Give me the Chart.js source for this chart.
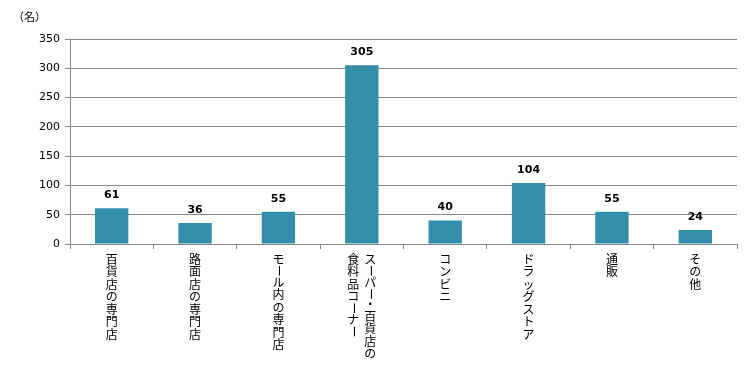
<!DOCTYPE html>
<html>
<head>
<meta charset="utf-8">
<script src="https://cdn.jsdelivr.net/npm/chart.js@4.4.0/dist/chart.umd.min.js"></script>
<style>
  html, body { margin: 0; padding: 0; background: #fff; }
  #wrap { width: 756px; height: 378px; }
</style>
</head>
<body>
<div id="wrap"><canvas id="canvas" width="756" height="378"></canvas></div>
<script>
// chart data
var categories = [
    ['百貨店の専門店'],
    ['路面店の専門店'],
    ['モール内の専門店'],
    ['スーパー・百貨店の', '食料品コーナー'],
    ['コンビニ'],
    ['ドラッグストア'],
    ['通販'],
    ['その他']
];
var counts = [61, 36, 55, 305, 40, 104, 55, 24];
var yTicks = [0, 50, 100, 150, 200, 250, 300, 350];
var unitLabel = '（名）';

var barColor = '#338eaa';
var gridColor = '#878787';
var jpFont = '"Noto Sans CJK JP", sans-serif';

// vertical writing: upright characters, long vowel mark turned
function drawVertical(ctx, text, x, y, step) {
    var chars = Array.from(text);
    var pos = y;
    chars.forEach(function(ch) {
        // punctuation takes a bit less room
        var s = (ch === 'ー' || ch === '・') ? step * 0.85 : step;
        ctx.save();
        ctx.translate(x, pos + s / 2);
        if (ch === 'ー') ctx.rotate(Math.PI / 2);
        ctx.textAlign = 'center';
        ctx.textBaseline = 'middle';
        ctx.fillText(ch, 0, 0);
        ctx.restore();
        pos += s;
    });
}

// value labels, unit text, category labels
var decorPlugin = {
    id: 'decor',
    afterDatasetsDraw: function(chart) {
        var ctx = chart.ctx;
        var meta = chart.getDatasetMeta(0);
        var xScale = chart.scales.x;
        var bottom = chart.chartArea.bottom;
        ctx.save();

        ctx.fillStyle = '#000';
        ctx.font = 'bold 11px "DejaVu Sans", sans-serif';
        ctx.textAlign = 'center';
        ctx.textBaseline = 'middle';
        meta.data.forEach(function(bar, i) {
            ctx.fillText(String(counts[i]), bar.x, bar.y - 13);
        });

        ctx.font = '11px ' + jpFont;
        ctx.textAlign = 'left';
        ctx.fillText(unitLabel, 13, 17);

        ctx.font = '12px ' + jpFont;
        categories.forEach(function(lines, i) {
            var cx = xScale.getPixelForValue(i);
            var lh = 17;
            var startX = cx + (lines.length - 1) * lh / 2;
            lines.forEach(function(line, j) {
                drawVertical(ctx, line, startX - j * lh, bottom + 9, 12.5);
            });
        });
        ctx.restore();
    }
};

var ctx = document.getElementById('canvas').getContext('2d');
var myChart = new Chart(ctx, {
    type: 'bar',
    data: {
        labels: categories.map(function(c) { return c.join(''); }),
        datasets: [{
            data: counts,
            backgroundColor: barColor,
            borderWidth: 0,
            categoryPercentage: 0.4,
            barPercentage: 1.0
        }]
    },
    options: {
        responsive: false,
        animation: false,
        layout: { padding: { top: 39, right: 19, left: 0, bottom: 0 } },
        plugins: {
            legend: { display: false },
            tooltip: { enabled: false }
        },
        scales: {
            x: {
                offset: true,
                grid: {
                    offset: true,
                    drawOnChartArea: false,
                    drawTicks: true,
                    tickLength: 5,
                    color: gridColor
                },
                border: { color: gridColor, width: 1 },
                ticks: { display: false },
                afterFit: function(scale) { scale.height = 134; }
            },
            y: {
                min: 0,
                max: 350,
                afterBuildTicks: function(scale) {
                    scale.ticks = yTicks.map(function(v) { return { value: v }; });
                },
                grid: {
                    color: gridColor,
                    tickLength: 5,
                    drawTicks: true
                },
                border: { color: gridColor, width: 1 },
                ticks: {
                    color: '#000',
                    padding: 5,
                    font: { family: '"DejaVu Sans", sans-serif', size: 11 }
                },
                afterFit: function(scale) { scale.width = 70; }
            }
        }
    },
    plugins: [decorPlugin]
});
</script>
</body>
</html>
